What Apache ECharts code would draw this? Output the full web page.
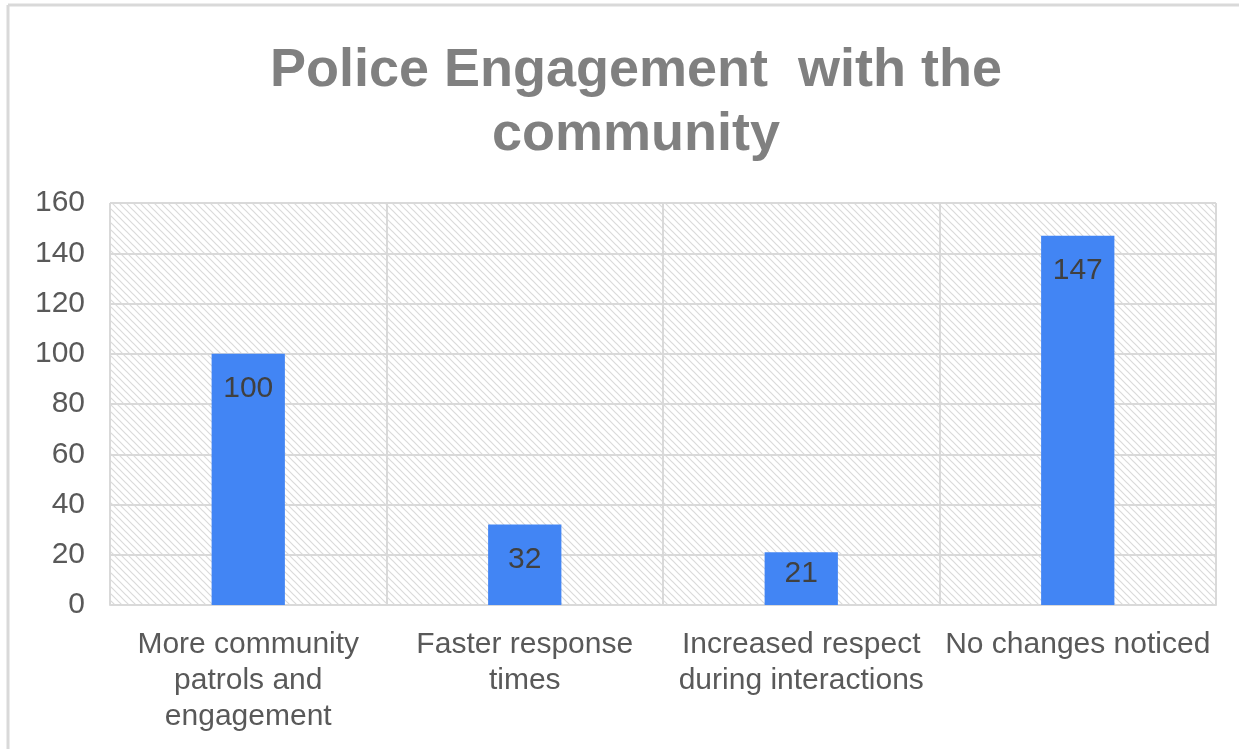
<!DOCTYPE html>
<html>
<head>
<meta charset="utf-8">
<script src="https://cdn.jsdelivr.net/npm/echarts@6/dist/echarts.min.js"></script>
<style>
html,body{margin:0;padding:0;background:#fff;}
#c{width:1239px;height:749px;}
</style>
</head>
<body>
<div id="c"></div>
<script>
var titleText = 'Police Engagement  with the\ncommunity';
var categories = ['More community\npatrols and\nengagement', 'Faster response\ntimes', 'Increased respect\nduring interactions', 'No changes noticed'];
var values = [100, 32, 21, 147];
var yTicks = {min: 0, max: 160, interval: 20};

// hatch pattern
var tile = document.createElement('canvas');
tile.width = 7; tile.height = 7;
var ctx = tile.getContext('2d');
ctx.fillStyle = '#ffffff';
ctx.fillRect(0, 0, 7, 7);
ctx.strokeStyle = '#dadada';
ctx.lineWidth = 1.2;
ctx.beginPath();
ctx.moveTo(-1, -1); ctx.lineTo(8, 8);
ctx.moveTo(-8, -1); ctx.lineTo(1, 8);
ctx.moveTo(6, -1); ctx.lineTo(15, 8);
ctx.stroke();

// short bars get their label pushed up closer to the bar top (as in the original)
var barData = values.map(function (v) {
  return v < 25 ? {value: v, label: {distance: 6}} : v;
});

var chart = echarts.init(document.getElementById('c'), null, {renderer: 'canvas'});
var font = '"Liberation Sans", Arial, sans-serif';
chart.setOption({
  animation: false,
  backgroundColor: '#ffffff',
  title: {
    text: titleText,
    left: 631,
    textAlign: 'center',
    top: 34,
    textStyle: {fontFamily: font, fontSize: 54, fontWeight: 'bold', color: '#808080', lineHeight: 64}
  },
  graphic: [
    {type: 'line', shape: {x1: 8, y1: 5, x2: 1239, y2: 5}, style: {stroke: '#d9d9d9', lineWidth: 3}},
    {type: 'line', shape: {x1: 8, y1: 5, x2: 8, y2: 749}, style: {stroke: '#d9d9d9', lineWidth: 3}}
  ],
  grid: {
    left: 110, right: 23, top: 203, bottom: 144,
    show: true,
    borderWidth: 0,
    backgroundColor: {image: tile, repeat: 'repeat'}
  },
  xAxis: {
    type: 'category',
    data: categories,
    axisTick: {show: false},
    axisLine: {show: true, lineStyle: {color: '#d9d9d9', width: 2}},
    splitLine: {show: true, interval: 0, lineStyle: {color: '#d9d9d9', width: 2}},
    axisLabel: {interval: 0, fontFamily: font, fontSize: 30, color: '#595959', lineHeight: 36, margin: 22}
  },
  yAxis: {
    type: 'value',
    min: yTicks.min, max: yTicks.max, interval: yTicks.interval,
    axisLine: {show: false},
    axisTick: {show: false},
    splitLine: {show: true, lineStyle: {color: '#d9d9d9', width: 2}},
    axisLabel: {fontFamily: font, fontSize: 30, color: '#595959', margin: 25}
  },
  series: [{
    type: 'bar',
    data: barData,
    barWidth: '26.5%',
    itemStyle: {color: '#4285F4'},
    label: {
      show: true,
      position: 'insideTop',
      distance: 20,
      fontFamily: font,
      fontSize: 30,
      color: '#404040'
    }
  }]
});
</script>
</body>
</html>
